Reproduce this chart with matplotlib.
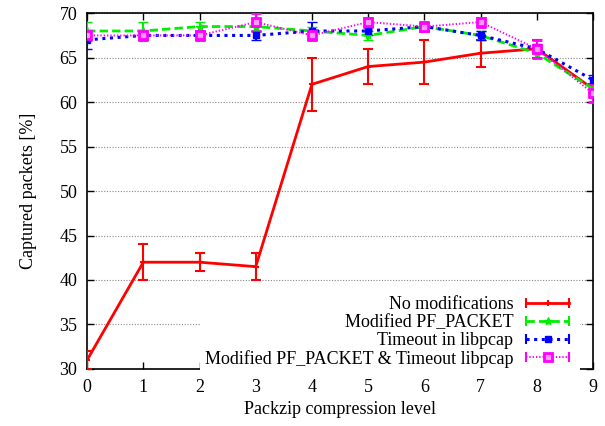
import matplotlib.pyplot as plt
import numpy as np
from matplotlib.lines import Line2D
from matplotlib.legend_handler import HandlerLine2D

# níveis de compressão
niveis = np.arange(10)

# séries (valor médio e erro)
nomes = ["No modifications", "Modified PF_PACKET", "Timeout in libpcap",
         "Modified PF_PACKET & Timeout libpcap"]
sem_mod = [31, 42, 42, 41.5, 62, 64, 64.5, 65.5, 66, 61.5]
sem_mod_err = [1, 2, 1, 1.5, 3, 2, 2.5, 1.5, 1, 0.5]
pf_packet = [68, 68, 68.5, 68.5, 68, 67.5, 68.5, 67.5, 65.5, 61.5]
pf_packet_err = [1, 1, 0.5, 0.5, 0.5, 0.5, 0.5, 0.5, 0.5, 0.5]
timeout = [67, 67.5, 67.5, 67.5, 68, 68, 68.5, 67.5, 66, 62.5]
timeout_err = [1, 0.5, 0.5, 0.5, 1, 0.5, 0.5, 0.5, 0.5, 0.5]
ambos = [67.5, 67.5, 67.5, 69, 67.5, 69, 68.5, 69, 66, 61]
ambos_err = [0.5, 0.5, 0.5, 1, 0.5, 0.5, 0.5, 0.5, 1, 1]

plt.rcParams["font.family"] = ["Liberation Serif", "DejaVu Serif"]

fig = plt.figure(figsize=(6.05, 4.26), dpi=100)
ax = fig.add_axes([0.144, 0.134, 0.836, 0.835])

estilos = [
    dict(color="#ff0000", ls="-", lw=2, marker="+", ms=5, mew=1.5),
    dict(color="#00ee00", ls=(0, (3, 1.5)), lw=2, marker="*", ms=6, mew=1),
    dict(color="#0000ff", ls=(0, (1, 1.5)), lw=2.2, marker="s", ms=5, mew=1),
    dict(color="#ff00ff", ls=(0, (0.7, 1)), lw=1.4, marker="s", ms=6, mew=2,
         mfc="#ff99ff"),
]
dados = [(sem_mod, sem_mod_err), (pf_packet, pf_packet_err),
         (timeout, timeout_err), (ambos, ambos_err)]

handles = []
hmap = {}
for (vals, errs), nome, st in zip(dados, nomes, estilos):
    ax.errorbar(niveis, vals, yerr=errs, capsize=3.5, elinewidth=1.5,
                capthick=1.5, label=nome, zorder=3, **st)
    # entrada da legenda ao estilo gnuplot: linha com barras nas pontas
    linha = Line2D([], [], color=st["color"], ls=st["ls"], lw=st["lw"],
                   marker="|", ms=7, mew=1.5)
    marca = Line2D([], [], color=st["color"], ls="none", marker=st["marker"],
                   ms=st["ms"], mew=st["mew"], mfc=st.get("mfc", st["color"]))
    hmap[linha] = HandlerLine2D(numpoints=2)
    hmap[marca] = HandlerLine2D(numpoints=1)
    handles.append((linha, marca))

ax.set_xlim(0, 9)
ax.set_ylim(30, 70)
ax.set_xticks(niveis)
ax.set_yticks(np.arange(30, 71, 5))
ax.yaxis.grid(True, color="#888888", ls=(0, (1, 1.5)), lw=0.8, zorder=0)
ax.set_axisbelow(True)
ax.tick_params(direction="in", length=5, width=1, top=True, right=True,
               labelsize=13, pad=7)
for s in ax.spines.values():
    s.set_linewidth(1.2)

ax.set_xlabel("Packzip compression level", fontsize=13, labelpad=4)
ax.set_ylabel("Captured packets [%]", fontsize=13, labelpad=16)

leg = ax.legend(handles, nomes, handler_map=hmap, loc="lower right",
                markerfirst=False, fontsize=13, frameon=True, framealpha=1,
                facecolor="white", edgecolor="none", fancybox=False,
                handlelength=3, handletextpad=0.4, labelspacing=0.05,
                borderpad=0.3, borderaxespad=0.0,
                bbox_to_anchor=(0.975, -0.012))
leg.set_zorder(5)

plt.savefig("out.png", dpi=100)
